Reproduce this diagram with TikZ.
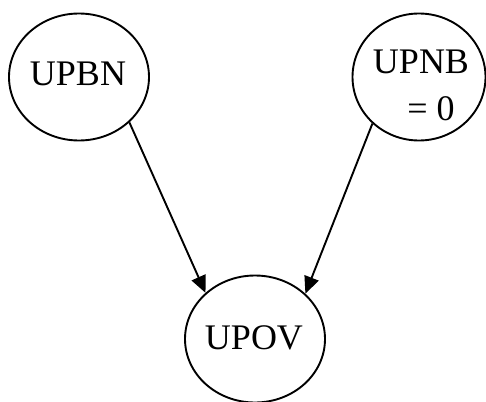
\documentclass[tikz,border=0pt]{standalone}
\usepackage{fontspec}
\setmainfont{Liberation Serif}
\usetikzlibrary{shapes.geometric,arrows.meta}
\tikzset{
  bubble/.style={ellipse, draw, line width=1.9pt, minimum width=140pt, minimum height=127pt, inner sep=0pt},
  lbl/.style={anchor=base, inner sep=0pt, font=\fontsize{36}{43}\selectfont},
  conn/.style={line width=1.9pt, -{Triangle[length=17pt,width=15pt]}}
}
\begin{document}
\begin{tikzpicture}[x=1pt,y=-1pt]
\useasboundingbox (0,0) rectangle (486,401);
\node[bubble] (bn) at (79,77) {};
\node[bubble, minimum width=133pt] (nb) at (419,77) {};
\node[bubble] (ov) at (255,339) {};
\node[lbl] (tbn) at (78,85) {UPBN};
\node[lbl] (tnb) at (421,74) {UPNB};
\node[lbl] (tnb2) at (431,120) {= 0};
\node[lbl] (tov) at (254,349) {UPOV};
\draw[conn] (bn.-42) -- (ov.137);
\draw[conn] (nb.-135) -- (ov.42);
\end{tikzpicture}
\end{document}
